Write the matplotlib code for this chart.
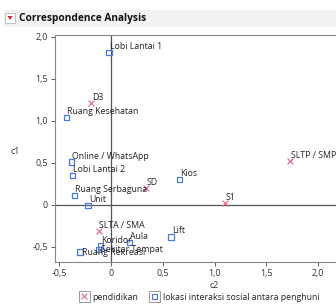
import matplotlib
matplotlib.use("Agg")
import matplotlib.pyplot as plt
from matplotlib.patches import Rectangle, Polygon
from matplotlib.ticker import FixedLocator, FuncFormatter

plt.rcParams['font.family'] = ['Open Sans', 'DejaVu Sans']

# pendidikan (education) points
edu_labels = ["D3", "SD", "SLTP / SMP", "S1", "SLTA / SMA"]
edu_c2 = [-0.19, 0.34, 1.73, 1.10, -0.12]
edu_c1 = [1.21, 0.20, 0.52, 0.02, -0.31]

# lokasi interaksi sosial points
loc_labels = ["Lobi Lantai 1", "Ruang Kesehatan", "Online / WhatsApp", "Lobi Lantai 2",
              "Ruang Serbaguna", "Unit", "Kios", "Lift", "Aula", "Koridor",
              "Ruang Rekreasi", "Sekitar Tempat"]
loc_c2 = [-0.02, -0.43, -0.38, -0.37, -0.35, -0.22, 0.66, 0.58, 0.18, -0.10, -0.30, -0.12]
loc_c1 = [1.81, 1.04, 0.51, 0.35, 0.11, -0.01, 0.30, -0.38, -0.45, -0.49, -0.56, -0.53]

xticks = [-0.5, 0, 0.5, 1.0, 1.5, 2.0]
yticks = [-0.5, 0, 0.5, 1.0, 1.5, 2.0]

W, H = 336, 305
fig = plt.figure(figsize=(W / 100, H / 100), dpi=100)
fig.patch.set_facecolor('white')

def px(x0, y0, x1, y1):
    return [x0 / W, 1 - y1 / H, (x1 - x0) / W, (y1 - y0) / H]

ax = fig.add_axes(px(55, 35, 345, 262))
ax.set_xlim(-0.54, 2.26)
ax.set_ylim(-0.68, 2.02)

red = '#e8627c'
blue = '#4a78d6'
ax.axhline(0, color='#555555', lw=0.9, zorder=1)
ax.axvline(0, color='#555555', lw=0.9, zorder=1)

ax.scatter(edu_c2, edu_c1, marker='x', s=18, color=red, linewidths=0.8, zorder=3)
ax.scatter(loc_c2, loc_c1, marker='s', s=16, facecolors='none', edgecolors=blue,
           linewidths=0.9, zorder=3)

low = {"Ruang Rekreasi", "Sekitar Tempat"}
for lab, x, y in zip(edu_labels + loc_labels, edu_c2 + loc_c2, edu_c1 + loc_c1):
    off = (1.5, -3.5) if lab in low else (0.5, 1.0)
    ax.annotate(lab, (x, y), xytext=off, textcoords='offset points',
                fontsize=6.3, color='#222222', ha='left', va='bottom', zorder=4)

for s in ax.spines.values():
    s.set_color('#888888')
    s.set_linewidth(0.8)
ax.xaxis.set_major_locator(FixedLocator(xticks))
ax.yaxis.set_major_locator(FixedLocator(yticks))
fmt = FuncFormatter(lambda v, p: '0' if abs(v) < 1e-9 else f"{v:.1f}".replace('.', ','))
ax.xaxis.set_major_formatter(fmt)
ax.yaxis.set_major_formatter(fmt)
ax.tick_params(labelsize=6.4, colors='#444444', length=3, width=0.6, pad=2)
for t in ax.get_xticklabels() + ax.get_yticklabels():
    t.set_color('#333333')

# decorations in pixel coordinates
ov = fig.add_axes([0, 0, 1, 1], zorder=-1)
ov.set_xlim(0, W)
ov.set_ylim(H, 0)
ov.axis('off')
ov.add_patch(Rectangle((4, 10), 332, 17, facecolor='#f2f2f2', edgecolor='none'))
ov.add_patch(Rectangle((5, 13), 10, 10, facecolor='white', edgecolor='#bbbbbb', lw=0.6))
ov.add_patch(Polygon([(7.5, 16), (12.5, 16), (10, 20)], closed=True, facecolor='#d9262e', edgecolor='none'))

ov2 = fig.add_axes([0, 0, 1, 1], zorder=5)
ov2.set_xlim(0, W)
ov2.set_ylim(H, 0)
ov2.axis('off')
ov2.text(19, 18.5, "Correspondence Analysis", fontsize=7.3, fontweight='bold',
         va='center', ha='left', color='#111111')
ov2.text(15, 151, "c1", fontsize=6.4, color='#333333', va='center', ha='center')
ov2.text(214, 286, "c2", fontsize=6.4, color='#333333', va='center', ha='center')

# legend
ov2.add_patch(Rectangle((79, 291), 11, 11, facecolor='white', edgecolor='#999999', lw=0.7))
ov2.plot([82, 87], [294, 299], color=red, lw=0.8)
ov2.plot([82, 87], [299, 294], color=red, lw=0.8)
ov2.text(92, 297, "pendidikan", fontsize=6.3, color='#222222', va='center', ha='left')
ov2.add_patch(Rectangle((149, 291), 11, 11, facecolor='white', edgecolor='#999999', lw=0.7))
ov2.add_patch(Rectangle((152, 294), 5, 5, facecolor='none', edgecolor=blue, lw=0.8))
ov2.text(163, 297, "lokasi interaksi sosial antara penghuni", fontsize=6.3,
         color='#222222', va='center', ha='left')

fig.savefig("out.png", dpi=100)
